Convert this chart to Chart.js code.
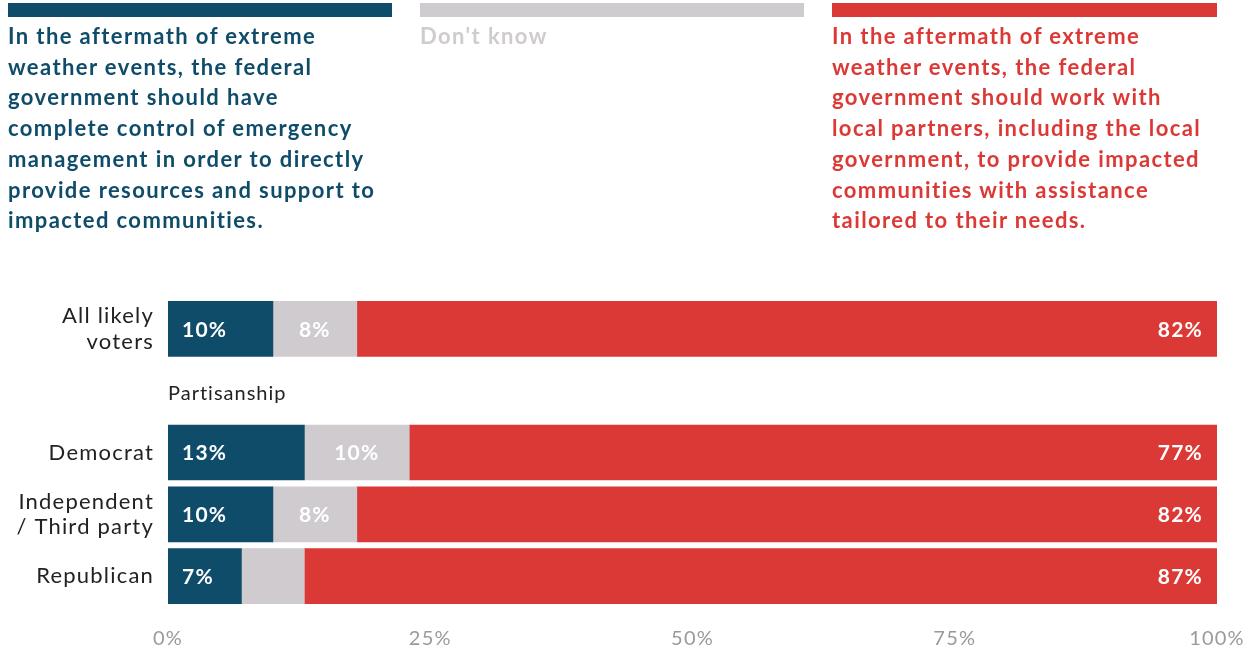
<!DOCTYPE html>
<html>
<head>
<meta charset="utf-8">
<script src="https://cdn.jsdelivr.net/npm/chart.js@4/dist/chart.umd.min.js"></script>
<style>
  html, body { margin: 0; padding: 0; background: #fff; }
  body { width: 1255px; height: 651px; position: relative; overflow: hidden; font-family: Lato, "Noto Sans", sans-serif; }
  #chartBox { position: absolute; left: 0; top: 0; width: 1255px; height: 651px; }
  .key { position: absolute; top: 3px; }
  .key .swatch { height: 14px; }
  .key .txt { font-weight: 700; font-size: 22px; line-height: 30.7px; margin-top: 4px; letter-spacing: 1.4px; white-space: nowrap; }
</style>
</head>
<body>
<div id="chartBox"><canvas id="chart" width="1255" height="651"></canvas></div>
<div id="keys"></div>
<script>
// Survey rows (the empty row leaves room for the "Partisanship" heading)
const categories = [["All likely", "voters"], "", "Democrat", ["Independent", "/ Third party"], "Republican"];
const federalControl = [10, null, 13, 10, 7];
const dontKnow = [8, null, 10, 8, 6];
const localPartners = [82, null, 77, 82, 87];

const seriesNames = [
  "In the aftermath of extreme weather events, the federal government should have complete control of emergency management in order to directly provide resources and support to impacted communities.",
  "Don't know",
  "In the aftermath of extreme weather events, the federal government should work with local partners, including the local government, to provide impacted communities with assistance tailored to their needs."
];
// Line breaks used in the header key
const seriesLines = [
  ["In the aftermath of extreme", "weather events, the federal", "government should have", "complete control of emergency", "management in order to directly", "provide resources and support to", "impacted communities."],
  ["Don't know"],
  ["In the aftermath of extreme", "weather events, the federal", "government should work with", "local partners, including the local", "government, to provide impacted", "communities with assistance", "tailored to their needs."]
];
const seriesColors = ["#0f4c6a", "#cfcbcf", "#db3935"];
const labelAlign = ["left", "center", "right"];
const groupHeading = "Partisanship";
const xTickValues = [0, 25, 50, 75, 100];

// Header key: colour bar with the statement underneath
const keyBoxes = [{ left: 8, width: 384 }, { left: 420, width: 384 }, { left: 832, width: 385 }];
const keys = document.getElementById("keys");
seriesLines.forEach((lines, i) => {
  const k = document.createElement("div");
  k.className = "key";
  k.style.left = keyBoxes[i].left + "px";
  k.style.width = keyBoxes[i].width + "px";
  const sw = document.createElement("div");
  sw.className = "swatch";
  sw.style.background = seriesColors[i];
  const t = document.createElement("div");
  t.className = "txt";
  t.style.color = seriesColors[i];
  lines.forEach((ln, j) => {
    if (j) t.appendChild(document.createElement("br"));
    t.appendChild(document.createTextNode(ln));
  });
  k.appendChild(sw);
  k.appendChild(t);
  keys.appendChild(k);
});

// Slightly open tracking for all canvas text
const tracking = {
  id: "tracking",
  afterInit(chart) { chart.ctx.letterSpacing = "1.2px"; },
  beforeUpdate(chart) { chart.ctx.letterSpacing = "1.2px"; },
  beforeDraw(chart) { chart.ctx.letterSpacing = "1.2px"; }
};

// Value labels inside each bar segment, plus the group heading
const segmentLabels = {
  id: "segmentLabels",
  afterDatasetsDraw(chart) {
    const ctx = chart.ctx;
    ctx.save();
    ctx.letterSpacing = "1.2px";
    ctx.font = "700 21px Lato, sans-serif";
    ctx.fillStyle = "#ffffff";
    ctx.textBaseline = "middle";
    chart.data.datasets.forEach((ds, i) => {
      const meta = chart.getDatasetMeta(i);
      meta.data.forEach((bar, j) => {
        const v = ds.data[j];
        if (v == null || v < 7) return;
        const p = bar.getProps(["x", "y", "base"], true);
        const l = Math.min(p.x, p.base), r = Math.max(p.x, p.base);
        const txt = v + "%";
        let x;
        if (labelAlign[i] === "left") { ctx.textAlign = "left"; x = l + 14; }
        else if (labelAlign[i] === "right") { ctx.textAlign = "right"; x = r - 14; }
        else { ctx.textAlign = "center"; x = (l + r) / 2; }
        ctx.fillText(txt, x, p.y + 1);
      });
    });
    const yScale = chart.scales.y;
    ctx.font = "400 20px Lato, sans-serif";
    ctx.letterSpacing = "1px";
    ctx.fillStyle = "#222222";
    ctx.textAlign = "left";
    ctx.fillText(groupHeading, chart.chartArea.left, yScale.getPixelForValue(1) + 3);
    ctx.restore();
  }
};

new Chart(document.getElementById("chart"), {
  type: "bar",
  data: {
    labels: categories,
    datasets: [
      { label: seriesNames[0], data: federalControl, backgroundColor: seriesColors[0] },
      { label: seriesNames[1], data: dontKnow, backgroundColor: seriesColors[1] },
      { label: seriesNames[2], data: localPartners, backgroundColor: seriesColors[2] }
    ]
  },
  options: {
    indexAxis: "y",
    responsive: false,
    animation: false,
    layout: { padding: { top: 298, right: 38, bottom: 0, left: 0 } },
    datasets: { bar: { barThickness: 55, borderWidth: 0 } },
    plugins: { legend: { display: false }, tooltip: { enabled: false } },
    scales: {
      x: {
        stacked: true,
        min: 0,
        max: 100,
        afterBuildTicks(scale) { scale.ticks = xTickValues.map(v => ({ value: v })); },
        afterFit(scale) {
          scale.height = 44;
          // end labels may overhang the plot; keep the plot width fixed
          scale.paddingLeft = 0;
          scale.paddingRight = 0;
        },
        grid: { display: false, drawTicks: false },
        border: { display: false },
        ticks: {
          callback: v => v + "%",
          color: "#9a9a9a",
          font: { family: "Lato, sans-serif", size: 20 },
          padding: 20
        }
      },
      y: {
        stacked: true,
        afterFit(scale) { scale.width = 168; },
        grid: { display: false, drawTicks: false },
        border: { display: false },
        ticks: {
          color: "#222222",
          font: { family: "Lato, sans-serif", size: 22, lineHeight: 1.14 },
          padding: 14
        }
      }
    }
  },
  plugins: [tracking, segmentLabels]
});
</script>
</body>
</html>
